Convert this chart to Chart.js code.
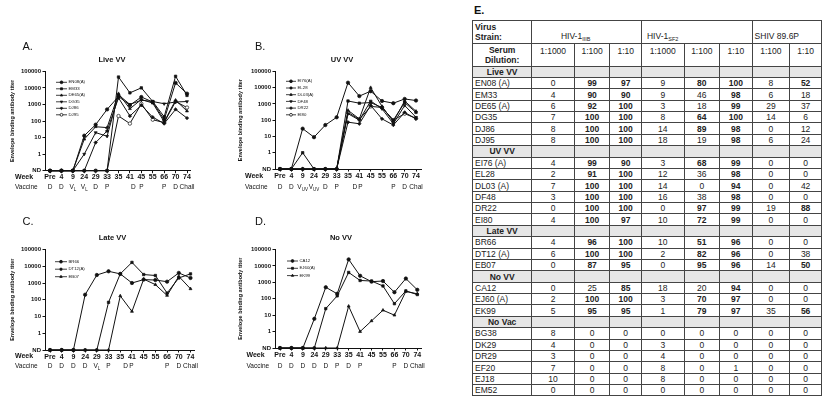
<!DOCTYPE html>
<html><head><meta charset="utf-8">
<script src="https://cdn.jsdelivr.net/npm/chart.js@4.4.1/dist/chart.umd.min.js"></script>
<style>
html,body{margin:0;padding:0;background:#fff;width:822px;height:397px;overflow:hidden;font-family:"Liberation Sans",Arial,sans-serif;}
canvas{position:absolute;}
#elab{position:absolute;left:474px;top:4px;font:bold 11px "Liberation Sans",Arial,sans-serif;color:#111;}
#tbl{position:absolute;left:472px;top:20px;border-collapse:collapse;table-layout:fixed;font-size:8.5px;color:#222;}
#tbl td{border:1px solid #444;padding:0;text-align:center;overflow:hidden;white-space:nowrap;line-height:10px;}
#tbl tr.h td{height:19.8px;}
#tbl tr.r td{height:10.38px;}
#tbl tr.g td{background:#e6e6e6;}
#tbl td.nm{text-align:left;padding-left:2px;}
#tbl td.gp{font-weight:bold;}
#tbl td.b{font-weight:bold;}
#tbl sub{font-size:5.5px;vertical-align:-2px;line-height:0;}
</style></head>
<body>
<canvas id="cA" width="225" height="165" style="left:0px;top:35px"></canvas>
<canvas id="cB" width="220" height="165" style="left:225px;top:35px"></canvas>
<canvas id="cC" width="225" height="165" style="left:0px;top:212px"></canvas>
<canvas id="cD" width="220" height="165" style="left:225px;top:212px"></canvas>
<div id="elab">E.</div>
<table id="tbl"></table>
<script>
// ---------------- DATA ----------------
const ND = 0.1;
const weeks = ['Pre','4','9','24','29','33','35','41','45','55','66','70','74'];
const yTickValues = [ND,1,10,100,1000,10000,100000];
const yTickLabels = ['ND','1','10','100','1000','10000','100000'];

// A. Live VV
const liveLabels = ['EN08(A)','EM33','DE65(A)','DG35','DJ86','DJ95'];
const liveEN08 = [ND,ND,ND,13,60,500,3000,900,2800,1400,120,20000,4500];
const liveEM33 = [ND,ND,ND,ND,ND,ND,45000,5000,10000,1500,180,50000,3500];
const liveDE65 = [ND,ND,ND,8,45,40,4500,550,2000,1200,90,1800,400];
const liveDG35 = [ND,ND,ND,1,20,12,3800,1000,1800,1500,1100,1400,1500];
const liveDJ86 = [ND,ND,ND,ND,5,25,2500,200,900,170,70,500,150];
const liveDJ95 = [ND,ND,ND,ND,ND,ND,200,70,1100,120,80,1500,650];
const liveVaccine = ['D','D','V_L','V_L','D','P','D','P','P','D','Chall'];
const liveVaccineAt = [0,1,2,3,4,5,7.3,8,10,11,12];

// B. UV VV
const uvLabels = ['EI76(A)','EL28','DL03(A)','DF48','DR22','EI80'];
const uvEI76 = [ND,ND,30,9,50,150,20000,3000,6000,1500,1100,2000,1600];
const uvEL28 = [ND,ND,1,ND,ND,ND,1500,1100,1200,600,100,1200,300];
const uvDL03 = [ND,ND,ND,ND,ND,ND,400,120,10000,700,80,1500,350];
const uvDF48 = [ND,ND,ND,ND,ND,ND,250,100,1500,500,60,800,150];
const uvDR22 = [ND,ND,ND,ND,ND,ND,75,60,800,120,50,300,120];
const uvEI80 = [ND,ND,ND,ND,ND,ND,300,110,700,600,100,250,130];
const uvVaccine = ['D','D','V_UV','V_UV','D','P','D','P','P','D','Chal'];
const uvVaccineAt = [0,1,2,3,4,5,6.6,7.1,10,11,12];

// C. Late VV
const lateLabels = ['BR66','DT12(A)','EB07'];
const lateBR66 = [ND,ND,ND,200,3000,5000,3500,1000,1600,1500,1200,4000,2000];
const lateDT12 = [ND,ND,ND,ND,ND,70,3500,17000,3200,2800,250,2000,3500];
const lateEB07 = [ND,ND,ND,ND,ND,ND,170,20,1700,800,180,2500,450];
const lateVaccine = ['D','D','D','D','V_L','P','D','P','P','D','Chall'];
const lateVaccineAt = [0,1,2,3,4,5,6.45,6.95,10,11,12];

// D. No VV
const novvLabels = ['CA12','EJ60(A)','EK99'];
const novvCA12 = [ND,ND,ND,6,500,200,25000,2500,1100,1200,250,1700,350];
const novvEJ60 = [ND,ND,ND,ND,25,150,4000,1300,1200,600,50,300,180];
const novvEK99 = [ND,ND,ND,ND,ND,ND,35,1,4.5,20,10,280,200];
const novvVaccine = ['D','D','D','D','D','P','D','P','P','D','Chall'];
const novvVaccineAt = [0,1,2,3,4,5,6,7,10,11,12];

// E. table
const tableColumns = ['1:1000','1:100','1:10','1:1000','1:100','1:10','1:100','1:10'];
const liveNames = ['EN08 (A)','EM33','DE65 (A)','DG35','DJ86','DJ95'];
const liveRows = [[0,99,97,9,80,100,8,52],[4,90,90,9,46,98,6,18],[6,92,100,3,18,99,29,37],[7,100,100,8,64,100,14,6],[8,100,100,14,89,98,0,12],[8,100,100,18,19,98,6,24]];
const uvNames = ['EI76 (A)','EL28','DL03 (A)','DF48','DR22','EI80'];
const uvRows = [[4,99,90,3,68,99,0,0],[2,91,100,12,36,98,0,0],[7,100,100,14,0,94,0,42],[3,100,100,16,38,98,0,0],[0,100,100,0,97,99,19,88],[4,100,97,10,72,99,0,0]];
const lateNames = ['BR66','DT12 (A)','EB07'];
const lateRows = [[4,96,100,10,51,96,0,0],[6,100,100,2,82,96,0,38],[0,87,95,0,95,96,14,50]];
const novvNames = ['CA12','EJ60 (A)','EK99'];
const novvRows = [[0,25,85,18,20,94,0,0],[2,100,100,3,70,97,0,0],[5,95,95,1,79,97,35,56]];
const novacNames = ['BG38','DK29','DR29','EF20','EJ18','EM52'];
const novacRows = [[8,0,0,0,0,0,0,0],[4,0,0,3,0,0,0,0],[3,0,0,4,0,0,0,0],[7,0,0,8,0,1,0,0],[10,0,0,8,0,0,0,0],[0,0,0,0,0,0,0,0]];
const tableGroups = [['Live VV',liveNames,liveRows],['UV VV',uvNames,uvRows],['Late VV',lateNames,lateRows],['No VV',novvNames,novvRows],['No Vac',novacNames,novacRows]];

// ---------------- DRAWING ----------------
const FAM = '"Liberation Sans", Arial, sans-serif';
const INK = '#111';

function drawSub(ctx, lab, x, y) {
  const parts = lab.split('_');
  ctx.font = '6.5px ' + FAM;
  const wm = ctx.measureText(parts[0]).width;
  let ws = 0;
  if (parts[1]) { ctx.font = '4.5px ' + FAM; ws = ctx.measureText(parts[1]).width; }
  const x0 = x - (wm + ws) / 2;
  ctx.textAlign = 'left';
  ctx.font = '6.5px ' + FAM;
  ctx.fillText(parts[0], x0, y);
  if (parts[1]) { ctx.font = '4.5px ' + FAM; ctx.fillText(parts[1], x0 + wm, y + 2); }
}

const decor = {
  id: 'decor',
  afterDraw(chart, args, o) {
    const ctx = chart.ctx, xs = chart.scales.x;
    const ox = o.cx, oy = o.cy;
    ctx.save();
    ctx.fillStyle = INK;
    ctx.textBaseline = 'middle';
    ctx.textAlign = 'left';
    ctx.font = '11px ' + FAM;
    ctx.fillText(o.letter, o.letterX - ox, o.letterY - oy);
    ctx.textAlign = 'center';
    ctx.font = 'bold 7.5px ' + FAM;
    ctx.fillText(o.title, o.titleX - ox, o.titleY - oy);
    ctx.textAlign = 'left';
    ctx.font = 'bold 7px ' + FAM;
    ctx.fillText('Week', o.rowX - ox, o.weekY - oy);
    ctx.font = '6.5px ' + FAM;
    ctx.fillText('Vaccine', o.rowX - ox, o.vaccY - oy);
    o.vacc.forEach((lab, k) => drawSub(ctx, lab, xs.getPixelForValue(o.vaccAt[k]), o.vaccY - oy));
    chart.data.datasets.forEach((ds, k) => {
      const y = o.legY0 + k * o.legDy - oy;
      const x0 = o.legX - ox, x1 = x0 + o.legW;
      ctx.strokeStyle = INK; ctx.lineWidth = 0.8;
      ctx.beginPath(); ctx.moveTo(x0, y); ctx.lineTo(x1, y); ctx.stroke();
      ctx.fillStyle = ds.pointBackgroundColor;
      if (Chart.helpers && Chart.helpers.drawPoint) {
        Chart.helpers.drawPoint(ctx, {pointStyle: ds.pointStyle, rotation: ds.pointRotation || 0, radius: 1.4, borderWidth: 0.7}, (x0 + x1) / 2, y);
      }
      ctx.fillStyle = INK;
      ctx.textAlign = 'left';
      ctx.font = '4.3px ' + FAM;
      ctx.fillText(ds.label, x1 + 1.5, y);
    });
    ctx.restore();
  }
};

const markStyles = [
  {s:'circle', r:0, f:INK}, {s:'rect', r:0, f:INK}, {s:'triangle', r:0, f:INK},
  {s:'triangle', r:180, f:INK}, {s:'rectRot', r:0, f:INK}, {s:'circle', r:0, f:'#fff'}
];

function panel(id, canvasPos, g, labels, series, deco) {
  const unit = (g.p12 - g.p0) / 12;
  const xmin = (g.left - g.p0) / unit;
  const xmax = 12 + (g.right - g.p12) / unit;
  const datasets = series.map((vals, k) => {
    const st = markStyles[k];
    return {
      label: labels[k],
      data: vals.map((v, i) => ({x: i, y: v})),
      borderColor: INK, borderWidth: 1,
      pointRadius: 1.7, pointStyle: st.s, pointRotation: st.r,
      pointBackgroundColor: st.f, pointBorderColor: INK, pointBorderWidth: 0.7,
      tension: 0, clip: false
    };
  });
  return new Chart(document.getElementById(id), {
    type: 'line',
    data: {datasets},
    plugins: [decor],
    options: {
      responsive: false, animation: false, devicePixelRatio: 1,
      layout: {autoPadding: false, padding: {left: 0, top: g.top - canvasPos.y, right: canvasPos.x + canvasPos.w - g.right, bottom: 0}},
      plugins: {
        legend: {display: false}, tooltip: {enabled: false},
        decor: Object.assign({cx: canvasPos.x, cy: canvasPos.y}, deco)
      },
      scales: {
        x: {
          type: 'linear', min: xmin, max: xmax,
          afterBuildTicks: s => { s.ticks = weeks.map((w, i) => ({value: i})); },
          afterFit: s => { s.height = canvasPos.y + canvasPos.h - g.bottom; },
          ticks: {callback: v => weeks[v], font: {size: 7, weight: 'bold', family: FAM}, color: INK, padding: 0, maxRotation: 0, autoSkip: false},
          grid: {drawOnChartArea: false, tickLength: 2.5, color: INK, tickColor: INK, lineWidth: 1},
          border: {color: INK, width: 1}
        },
        y: {
          type: 'logarithmic', min: ND, max: 100000,
          afterBuildTicks: s => { s.ticks = yTickValues.map(v => ({value: v})); },
          afterFit: s => { s.width = g.left - canvasPos.x; },
          ticks: {callback: v => { const k = yTickValues.indexOf(v); return k >= 0 ? yTickLabels[k] : ''; }, font: {size: 6, weight: 'bold', family: FAM}, color: INK, padding: 1.5, autoSkip: false},
          grid: {drawOnChartArea: false, tickLength: 2.5, color: INK, tickColor: INK, lineWidth: 1},
          border: {color: INK, width: 1},
          title: {display: true, text: 'Envelope binding antibody titer', font: {size: 5.5, weight: 'bold', family: FAM}, color: INK, padding: {top: g.ytx - canvasPos.x - 3.3, bottom: 0}}
        }
      }
    }
  });
}

panel('cA', {x:0,y:35,w:225,h:165}, {left:45,right:190.5,top:71.3,bottom:170.7,p0:50,p12:187,ytx:12},
  liveLabels, [liveEN08, liveEM33, liveDE65, liveDG35, liveDJ86, liveDJ95],
  {letter:'A.', letterX:22.5, letterY:46.7, title:'Live VV', titleX:112, titleY:59.5, rowX:15, weekY:177, vaccY:187.7,
   vacc: liveVaccine, vaccAt: liveVaccineAt, legX:56, legW:11, legY0:82.3, legDy:6.5});

panel('cB', {x:225,y:35,w:220,h:165}, {left:275,right:421,top:71.3,bottom:169,p0:280,p12:416,ytx:240.5},
  uvLabels, [uvEI76, uvEL28, uvDL03, uvDF48, uvDR22, uvEI80],
  {letter:'B.', letterX:255, letterY:46.7, title:'UV VV', titleX:342, titleY:59.5, rowX:245, weekY:176, vaccY:187.7,
   vacc: uvVaccine, vaccAt: uvVaccineAt, legX:286, legW:10, legY0:81.3, legDy:6.7});

panel('cC', {x:0,y:212,w:225,h:165}, {left:45,right:194,top:249.5,bottom:350,p0:50,p12:190.5,ytx:12},
  lateLabels, [lateBR66, lateDT12, lateEB07],
  {letter:'C.', letterX:22.5, letterY:222, title:'Late VV', titleX:112.5, titleY:238, rowX:15, weekY:356.5, vaccY:366.7,
   vacc: lateVaccine, vaccAt: lateVaccineAt, legX:55, legW:12, legY0:261.7, legDy:7.5});

panel('cD', {x:225,y:212,w:220,h:165}, {left:275,right:421.3,top:249.5,bottom:348,p0:280,p12:417.3,ytx:240},
  novvLabels, [novvCA12, novvEJ60, novvEK99],
  {letter:'D.', letterX:255, letterY:222, title:'No VV', titleX:341, titleY:238, rowX:246.5, weekY:355.5, vaccY:366,
   vacc: novvVaccine, vaccAt: novvVaccineAt, legX:287, legW:11, legY0:261, legDy:7.3});

// ---------------- TABLE ----------------
(function buildTable() {
  const colW = [60, 43, 36, 32, 43, 36, 33, 38, 32];
  const t = document.getElementById('tbl');
  let html = '<colgroup>' + colW.map(w => '<col style="width:' + w + 'px">').join('') + '</colgroup>';
  html += '<tr class="h"><td class="b" style="text-align:left;padding-left:2px">Virus<br>Strain:</td>' +
    '<td colspan="3" style="vertical-align:bottom;padding-bottom:2px;padding-right:22px">HIV-1<sub>IIIB</sub></td>' +
    '<td colspan="3" style="vertical-align:bottom;padding-bottom:2px;text-align:left;padding-left:5px">HIV-1<sub>SF2</sub></td>' +
    '<td colspan="2" style="vertical-align:bottom;padding-bottom:2px;text-align:left;padding-left:2px">SHIV 89.6P</td></tr>';
  html += '<tr class="h"><td class="b">Serum<br>Dilution:</td>' +
    tableColumns.map(c => '<td style="vertical-align:top;padding-top:2px">' + c + '</td>').join('') + '</tr>';
  tableGroups.forEach(([gname, names, rows]) => {
    html += '<tr class="r g"><td class="gp">' + gname + '</td>' + tableColumns.map(() => '<td></td>').join('') + '</tr>';
    names.forEach((n, i) => {
      html += '<tr class="r"><td class="nm">' + n + '</td>' +
        rows[i].map((v, j) => '<td' + (j > 0 && v >= 50 ? ' class="b"' : '') + '>' + v + '</td>').join('') + '</tr>';
    });
  });
  t.innerHTML = html;
})();
</script>
</body></html>
